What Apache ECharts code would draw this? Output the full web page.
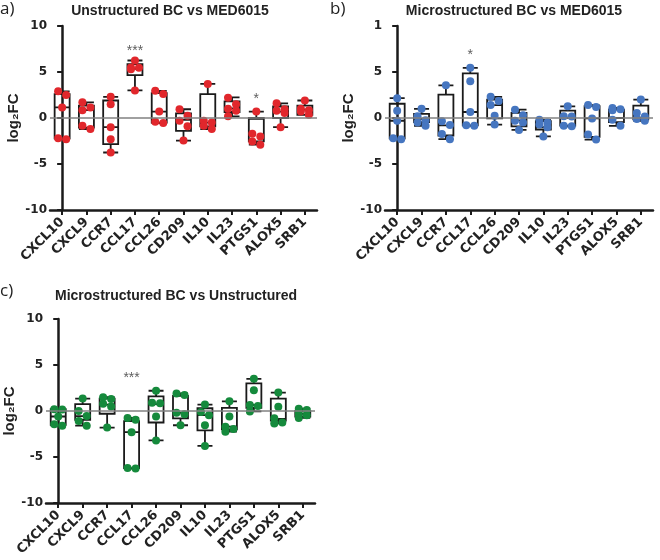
<!DOCTYPE html>
<html>
<head>
<meta charset="utf-8">
<script src="https://cdn.jsdelivr.net/npm/echarts@6/dist/echarts.min.js"></script>
<style>html,body{margin:0;padding:0;background:#fff}#c{width:660px;height:560px}</style>
</head>
<body>
<div id="c"></div>
<script>
const categories = ['CXCL10','CXCL9','CCR7','CCL17','CCL26','CD209','IL10','IL23','PTGS1','ALOX5','SRB1'];
const yTicks = [-10, -5, 0, 5, 10];
const yTickLabelsA = ['-10', '-5', '0', '5', '10'];
const yTickLabelsB = ['-10', '-5', '0', '5', '1'];
const yTickLabelsC = ['-10', '-5', '0', '5', '10'];
const titles = ['Unstructured BC vs MED6015', 'Microstructured BC vs MED6015', 'Microstructured BC vs Unstructured'];
const panelLetters = ['a)', 'b)', 'c)'];

// Panel a: Unstructured BC vs MED6015
const pointsA = [
  [2.9, 2.5, 1.15, -2.2, -2.3],
  [1.7, 1.15, 0.85, -0.85, -1.2],
  [2.3, 1.5, -1.0, -2.3, -3.75],
  [6.25, 5.5, 5.45, 5.3, 3.0],
  [2.95, 2.6, 0.7, -0.4, -0.55],
  [0.95, 0.25, -0.3, -0.9, -2.45],
  [3.7, -0.3, -0.5, -0.85, -1.2],
  [2.2, 1.5, 1.0, 0.8, 0.18],
  [0.7, -1.7, -2.0, -2.55, -2.9],
  [1.6, 0.95, 0.8, 0.55, -1.0],
  [1.9, 1.0, 0.85, 0.7, 0.35]
];
const boxA = [
  [-2.3, -2.2, 1.15, 2.6, 2.9],
  [-1.2, -1.05, 0.85, 1.35, 1.7],
  [-3.75, -2.85, -1.0, 1.9, 2.3],
  [3.0, 4.65, 5.35, 5.85, 6.25],
  [-0.55, -0.5, 0.7, 2.7, 2.95],
  [-2.45, -1.4, -0.2, 0.5, 0.95],
  [-1.2, -0.9, -0.5, 2.6, 3.7],
  [0.18, 0.65, 1.05, 1.8, 2.25],
  [-2.9, -2.55, -0.1, 0.0, 0.7],
  [-1.0, 0.0, 0.7, 1.25, 1.6],
  [0.35, 0.35, 0.9, 1.35, 1.9]
];
const sigCatsA = ['CCL17', 'PTGS1'];
const sigYA = [7.3, 2.0];
const sigTextA = ['***', '*'];

// Panel b: Microstructured BC vs MED6015
const pointsB = [
  [2.15, 0.8, -0.3, -2.2, -2.3],
  [1.0, 0.2, -0.25, -0.5, -0.85],
  [3.55, -0.35, -0.75, -1.75, -2.3],
  [5.45, 4.0, 0.65, -0.8, -0.85],
  [2.3, 1.85, 1.4, 0.25, -0.72],
  [0.9, 0.3, -0.3, -0.5, -1.3],
  [-0.2, -0.5, -0.7, -1.0, -2.0],
  [1.27, 0.2, 0.15, -0.85, -0.9],
  [1.4, 1.2, -0.05, -1.8, -2.35],
  [1.1, 0.95, 0.85, -0.2, -0.85],
  [2.0, 0.55, 0.15, -0.1, -0.3]
];
const boxB = [
  [-2.3, -2.2, -0.3, 1.55, 2.15],
  [-0.85, -0.45, -0.1, 0.45, 1.0],
  [-2.3, -1.9, -0.8, 2.55, 3.55],
  [-0.85, -0.8, 0.65, 4.85, 5.45],
  [-0.72, -0.05, 1.4, 2.0, 2.3],
  [-1.3, -0.9, -0.25, 0.55, 0.9],
  [-2.0, -1.25, -1.0, -0.35, -0.2],
  [-0.9, -0.83, 0.0, 0.8, 1.27],
  [-2.35, -2.05, -0.05, 1.3, 1.4],
  [-0.85, -0.45, 0.0, 0.9, 1.1],
  [-0.3, -0.15, 0.05, 1.35, 2.0]
];
const sigCatsB = ['CCL17'];
const sigYB = [6.8];
const sigTextB = ['*'];

// Panel c: Microstructured BC vs Unstructured
const pointsC = [
  [0.2, 0.15, -0.6, -1.45, -1.6],
  [1.35, 0.0, -0.55, -1.1, -1.6],
  [1.5, 1.3, 0.8, 0.5, -1.8],
  [-0.75, -0.95, -2.3, -6.2, -6.25],
  [2.2, 0.9, 0.85, -0.6, -3.2],
  [1.9, 1.75, -0.2, -0.35, -1.55],
  [0.7, -0.1, -0.45, -1.55, -3.8],
  [1.05, -0.6, -1.7, -1.95, -2.25],
  [3.5, 2.25, 0.65, 0.55, -0.05],
  [2.0, 0.45, -0.8, -1.25, -1.35],
  [0.25, 0.1, -0.3, -0.45, -0.75]
];
const boxC = [
  [-1.6, -1.5, -0.6, 0.2, 0.2],
  [-1.6, -0.95, -0.55, 0.75, 1.35],
  [-1.8, -0.3, 0.7, 1.35, 1.5],
  [-6.25, -6.2, -2.3, -1.1, -0.75],
  [-3.2, -1.25, 0.75, 1.6, 2.2],
  [-1.55, -0.8, -0.2, 1.65, 1.9],
  [-3.8, -2.1, -0.45, 0.3, 0.7],
  [-2.25, -2.0, -1.7, 0.35, 1.05],
  [-0.05, 0.35, 0.65, 3.0, 3.5],
  [-1.35, -1.05, -0.85, 1.35, 2.0],
  [-0.75, -0.6, -0.3, 0.0, 0.25]
];
const sigCatsC = ['CCL17'];
const sigYC = [3.55];
const sigTextC = ['***'];

const panels = [
  {points: pointsA, box: boxA, sigCats: sigCatsA, sigY: sigYA, sigText: sigTextA, tickLabels: yTickLabelsA, color: '#e1272c',
   grid: {left: 50, top: 26, width: 267, height: 184}, title: {x: 170, y: 4}, letter: {x: 0, y: 1}},
  {points: pointsB, box: boxB, sigCats: sigCatsB, sigY: sigYB, sigText: sigTextB, tickLabels: yTickLabelsB, color: '#4676c0',
   grid: {left: 385, top: 26, width: 268, height: 184}, title: {x: 514, y: 4}, letter: {x: 330, y: 1}},
  {points: pointsC, box: boxC, sigCats: sigCatsC, sigY: sigYC, sigText: sigTextC, tickLabels: yTickLabelsC, color: '#158a3c',
   grid: {left: 46, top: 319, width: 269, height: 184}, title: {x: 176, y: 289}, letter: {x: 0, y: 283}}
];

const FONT = '"Liberation Sans", Arial, sans-serif';
const TICKFONT = '"DejaVu Sans", sans-serif';
const pxPerUnit = 184 / 20;

// points closer than a symbol height to a neighbour alternate left/right of the centre (pixels)
function spread(vals) {
  const idx = vals.map((v, k) => k).sort((a, b) => vals[b] - vals[a]);
  const offs = new Array(vals.length).fill(0);
  let cluster = [idx[0]];
  const flush = () => {
    const n = cluster.length;
    if (n === 1) return;
    cluster.forEach((k, j) => { offs[k] = (j % 2 === 0 ? -4 : 4); });
  };
  for (let j = 1; j < idx.length; j++) {
    const prev = idx[j - 1], cur = idx[j];
    if ((vals[prev] - vals[cur]) * pxPerUnit < 6.5) cluster.push(cur);
    else { flush(); cluster = [cur]; }
  }
  flush();
  return offs;
}

const option = {
  animation: false,
  backgroundColor: '#fff',
  title: [],
  grid: [],
  xAxis: [],
  yAxis: [],
  series: []
};

panels.forEach((p, i) => {
  const band = p.grid.width / categories.length;
  option.title.push({
    text: titles[i], left: p.title.x, top: p.title.y, textAlign: 'center', padding: 0,
    textStyle: {fontFamily: FONT, fontSize: 14, fontWeight: 'bold', color: '#222'}
  });
  option.title.push({
    text: panelLetters[i], left: p.letter.x, top: p.letter.y, padding: 0,
    textStyle: {fontFamily: '"Open Sans", "DejaVu Sans", sans-serif', fontSize: 17, fontWeight: 'normal', color: '#222'}
  });
  option.grid.push(Object.assign({containLabel: false}, p.grid));
  option.xAxis.push({
    type: 'category', gridIndex: i, data: categories,
    axisLine: {show: true, onZero: false, lineStyle: {color: '#1a1a1a', width: 2.5}},
    axisTick: {show: true, alignWithLabel: true, length: 5, lineStyle: {color: '#1a1a1a', width: 2}},
    axisLabel: {interval: 0, rotate: 45, margin: 10, fontFamily: TICKFONT, fontSize: 13, fontWeight: 'bold', color: '#222'},
    splitLine: {show: false}
  });
  option.xAxis.push({
    type: 'value', gridIndex: i, min: -0.5, max: categories.length - 0.5, show: false,
    splitLine: {show: false}
  });
  option.yAxis.push({
    type: 'value', gridIndex: i, min: -10, max: 10, interval: 5,
    name: 'log₂FC', nameLocation: 'middle', nameGap: 29, nameRotate: 90,
    nameTextStyle: {fontFamily: FONT, fontSize: 15, fontWeight: 'bold', color: '#222'},
    axisLine: {show: true, lineStyle: {color: '#1a1a1a', width: 2.5}},
    axisTick: {show: true, length: 5, lineStyle: {color: '#1a1a1a', width: 2}},
    axisLabel: {
      margin: 3, fontFamily: TICKFONT, fontSize: 12, fontWeight: 'bold', color: '#222',
      formatter: (v) => { const k = yTicks.indexOf(v); return k >= 0 ? p.tickLabels[k] : ''; }
    },
    splitLine: {show: false}
  });
  option.series.push({
    type: 'boxplot', xAxisIndex: 2 * i, yAxisIndex: i,
    data: p.box, boxWidth: [15, 15],
    itemStyle: {color: 'rgba(255,255,255,0)', borderColor: '#1a1a1a', borderWidth: 1.8},
    emphasis: {disabled: true},
    markLine: {
      silent: true, symbol: 'none', label: {show: false},
      lineStyle: {color: '#808080', width: 1.5, type: 'solid'},
      data: [{yAxis: 0}]
    },
    z: 2
  });
  const pts = [];
  p.points.forEach((vals, ci) => {
    const offs = spread(vals);
    vals.forEach((v, k) => {
      pts.push([ci + offs[k] / band, v]);
    });
  });
  option.series.push({
    type: 'scatter', xAxisIndex: 2 * i + 1, yAxisIndex: i, data: pts,
    symbol: 'circle', symbolSize: 8,
    itemStyle: {color: p.color, opacity: 1},
    emphasis: {disabled: true}, z: 3
  });
  option.series.push({
    type: 'scatter', xAxisIndex: 2 * i, yAxisIndex: i,
    data: p.sigCats.map((c, k) => ({value: [c, p.sigY[k]], label: {formatter: p.sigText[k]}})),
    symbolSize: 0,
    label: {show: true, position: 'inside', fontFamily: FONT, fontSize: 14, color: '#333'},
    emphasis: {disabled: true}, z: 4
  });
});

const chart = echarts.init(document.getElementById('c'), null, {renderer: 'canvas'});
chart.setOption(option);
</script>
</body>
</html>
